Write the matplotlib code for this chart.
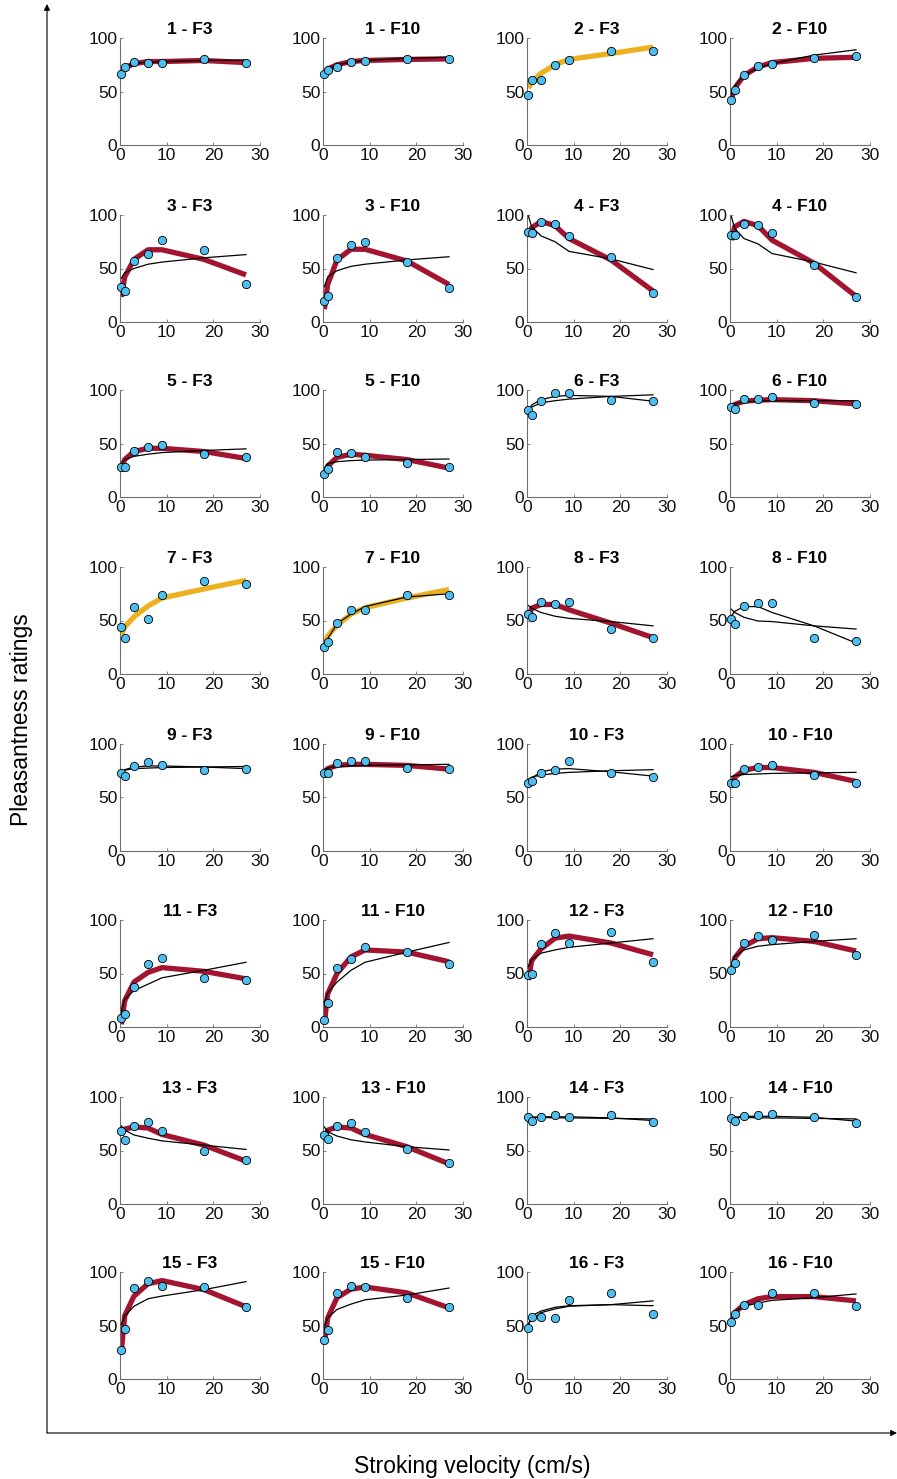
import matplotlib
matplotlib.use("Agg")
import matplotlib.pyplot as plt

plt.rcParams['font.family'] = ['Liberation Sans', 'DejaVu Sans']

# Stroking velocities (cm/s) at which ratings were collected
velocities = [0.3, 1, 3, 6, 9, 18, 27]

panel_titles = [
    "1 - F3", "1 - F10", "2 - F3", "2 - F10",
    "3 - F3", "3 - F10", "4 - F3", "4 - F10",
    "5 - F3", "5 - F10", "6 - F3", "6 - F10",
    "7 - F3", "7 - F10", "8 - F3", "8 - F10",
    "9 - F3", "9 - F10", "10 - F3", "10 - F10",
    "11 - F3", "11 - F10", "12 - F3", "12 - F10",
    "13 - F3", "13 - F10", "14 - F3", "14 - F10",
    "15 - F3", "15 - F10", "16 - F3", "16 - F10",
]

# Mean pleasantness ratings per panel at each velocity
ratings = [
    [66, 73, 77.5, 76.5, 77, 80.5, 77], [66, 70, 73, 77.5, 78.5, 80, 80],
    [47, 61, 61, 74.5, 79, 88, 88], [42, 51, 65, 74, 76, 81.5, 83],
    [33, 29, 57, 64, 77, 67, 35.5], [20, 24, 60, 72, 75, 56, 32],
    [84, 83.5, 93, 92, 80, 61, 27], [81, 81, 92, 90.5, 83.5, 53, 23],
    [28, 28, 43, 46.5, 48.5, 40, 37], [21.5, 26, 42, 41.5, 37, 31.5, 28],
    [81, 76.5, 90, 97.5, 97.5, 90.5, 89.5], [84, 82, 92, 92, 93, 88, 87],
    [44, 34, 62.5, 51, 74, 87, 84], [25.5, 30, 48, 59.5, 60, 74, 73.5],
    [56, 53, 67, 65, 67, 42, 34], [51, 47, 64, 66, 66, 34, 31],
    [72.5, 70.5, 79, 83, 80, 75.5, 77], [72.5, 72.5, 82, 84, 84, 78, 77],
    [64, 65.5, 72.5, 75.5, 84, 72.5, 69.5], [64, 64, 77, 78.5, 80.5, 71, 64],
    [8, 12.5, 37, 58.5, 64.5, 46, 44], [7, 22, 55.5, 64, 75, 70, 58.5],
    [49, 50, 77.5, 87.5, 78.5, 88.5, 60.5], [53.5, 59.5, 78.5, 85, 81, 86, 67],
    [68, 60, 73, 76.5, 68, 49.5, 41], [64.5, 60.5, 73, 75.5, 67.5, 51.5, 38],
    [81, 77.5, 81, 83, 81, 83, 76.5], [80, 77.5, 82.5, 83, 84, 81, 76],
    [27, 47, 85, 92, 87, 86, 67.5], [36.5, 45.5, 80.5, 86.5, 86, 76, 67.5],
    [47.5, 58, 58, 57, 74, 80.5, 61], [53.5, 61, 69.5, 69, 80.5, 80.5, 68],
]

# Logarithmic model fit evaluated at each velocity
log_fit = [
    [69, 72, 76, 77.5, 78, 79, 79.5], [67, 71, 75, 77.5, 79, 81, 82],
    [53, 59, 67, 75, 80, 85.5, 91.5], [47, 55, 65, 72, 76, 84, 89],
    [41, 46, 50, 54, 56, 60, 63], [33, 42, 48, 52, 54, 58, 61],
    [99, 89, 80.5, 75, 66, 59, 49], [98.5, 87.5, 78, 73, 64, 56, 46],
    [31, 35, 38, 40, 41.5, 43.5, 45], [27, 31, 33, 34, 34.5, 35, 35.5],
    [80, 84, 88, 90, 91.5, 94, 95.5], [85, 87, 89, 89.5, 90, 90, 90],
    [37, 44, 53.5, 63.5, 71, 79.5, 87.5], [27, 35.5, 45.5, 56, 62, 71, 79],
    [64, 61.5, 57.5, 54, 52, 49, 45], [60.5, 57.5, 53, 49.5, 49, 45, 42],
    [73, 75.5, 77, 77.5, 78, 78.5, 79], [76, 77.5, 79, 79.5, 80, 80.5, 81],
    [67, 69, 71, 72.5, 73.5, 75, 76], [69.5, 70.5, 71.5, 72, 72.5, 73, 73.5],
    [15, 26, 34, 40, 46, 53, 60.5], [23, 32, 42, 53, 60.5, 70, 79],
    [56.5, 63, 69, 72, 74.5, 78.5, 82.5], [58, 66, 72, 75.5, 77, 80, 82.5],
    [73, 69, 64.5, 61.5, 59, 55, 51], [72, 67.5, 63.5, 60, 58, 53.5, 50.5],
    [81.5, 81, 81, 80.5, 80.5, 80, 79.5], [81, 81, 81, 80.5, 80.5, 80, 79.5],
    [51, 59, 68, 75, 77.5, 83.5, 91], [49.5, 57, 65, 70, 74, 78.5, 85],
    [51.5, 55.5, 62, 65.5, 68, 69.5, 73], [60, 63.5, 68, 71, 73.5, 76, 79.5],
]

# Quadratic model fit evaluated at each velocity (None where not drawn)
quad_fit = [
    [68, 72, 76, 78, 78, 79, 77], [68, 71, 75, 78, 79, 80, 80.5],
    None, [43, 53, 65, 73, 77, 81, 82],
    [23.5, 42, 58.5, 67.5, 67.5, 58.5, 44], [12, 35, 58, 68, 68, 57, 35],
    [80, 88, 94, 90, 78, 58, 29], [76.5, 89, 94, 90, 76.5, 55, 24],
    [27, 35, 42.5, 45.5, 45.5, 42.5, 36], [19, 29, 37, 40, 39, 35, 27],
    [80, 86, 91, 94, 95, 94, 89.5], [83, 86.5, 89.5, 90.5, 91, 90, 87],
    None, [25, 33, 47, 56, 63, 72, 75],
    [52, 61.5, 65, 65, 60, 47.5, 34], [54, 58.5, 63, 63, 57.5, 45, 29],
    [72, 76, 78.5, 79.5, 79.5, 78.5, 77], [74, 77, 80, 81, 81, 80, 76.5],
    [65.5, 68, 74, 76.5, 77, 74, 70], [62, 69, 75.5, 78, 78, 73.5, 65],
    [2.5, 24.5, 42, 51, 55.5, 52, 45], [4, 31, 50, 65.5, 72, 70, 61],
    [44, 62, 73, 83, 85, 78.5, 67.5], [50, 64.5, 75.5, 82.5, 83.5, 80, 71],
    [64.5, 70, 72, 71, 65, 55, 40], [60.5, 69, 72, 71, 65, 53.5, 37.5],
    [80, 81, 81.5, 81.5, 81.5, 80.5, 78], [79, 81, 82, 82, 82, 81, 77.5],
    [26, 59, 77.5, 89, 92, 83.5, 67.5], [34, 57, 76, 84, 86, 80.5, 66.5],
    [51, 59, 63.5, 67, 68.5, 69.5, 68.5], [53.5, 62, 69.5, 75, 77, 77, 73],
]

# Which model is highlighted in each panel: 'quad', 'log' or None
best_model = [
    'quad', 'quad', 'log', 'quad',
    'quad', 'quad', 'quad', 'quad',
    'quad', 'quad', None, 'quad',
    'log', 'log', 'quad', None,
    None, 'quad', None, 'quad',
    'quad', 'quad', 'quad', 'quad',
    'quad', 'quad', None, None,
    'quad', 'quad', None, 'quad',
]

RED = '#A2142F'
YELLOW = '#EDB120'
DOT = '#4DBEEE'
AXIS_GREY = '#6e6e6e'

W, H = 897, 1479
fig = plt.figure(figsize=(W / 100, H / 100), dpi=100)

col_left = [120, 323, 527, 730]
row_zero = [145, 322, 497, 674, 851, 1027, 1204, 1379]
ax_w, ax_h = 140, 107

for i, title in enumerate(panel_titles):
    r, c = divmod(i, 4)
    left = col_left[c] / W
    bottom = 1 - row_zero[r] / H
    ax = fig.add_axes([left, bottom, ax_w / W, ax_h / H])

    best = best_model[i]
    if best == 'quad':
        ax.plot(velocities, quad_fit[i], color=RED, lw=3.8,
                solid_capstyle='butt', solid_joinstyle='round', zorder=2)
        ax.plot(velocities, log_fit[i], color='black', lw=0.9, zorder=3)
    elif best == 'log':
        ax.plot(velocities, log_fit[i], color=YELLOW, lw=3.8,
                solid_capstyle='butt', solid_joinstyle='round', zorder=2)
        if quad_fit[i] is not None:
            ax.plot(velocities, quad_fit[i], color='black', lw=0.9, zorder=3)
    else:
        ax.plot(velocities, log_fit[i], color='black', lw=0.9, zorder=3)
        if quad_fit[i] is not None:
            ax.plot(velocities, quad_fit[i], color='black', lw=0.9, zorder=3)

    ax.plot(velocities, ratings[i], linestyle='none', marker='o',
            markersize=6, markerfacecolor=DOT, markeredgecolor='black',
            markeredgewidth=0.6, zorder=4, clip_on=False)

    ax.set_xlim(0, 30)
    ax.set_ylim(0, 100)
    ax.set_xticks([0, 10, 20, 30])
    ax.set_yticks([0, 50, 100])
    ax.spines['top'].set_visible(False)
    ax.spines['right'].set_visible(False)
    for s in ('left', 'bottom'):
        ax.spines[s].set_color(AXIS_GREY)
        ax.spines[s].set_linewidth(0.8)
    ax.tick_params(direction='in', length=2.5, width=0.6, color=AXIS_GREY,
                   labelsize=12.5, labelcolor='#111111', pad=2)
    ax.patch.set_alpha(0)
    ax.set_title(title, fontsize=12.5, fontweight='bold', pad=3)

# Outer frame with arrowed axes and shared labels
frame = fig.add_axes([0, 0, 1, 1])
frame.set_xlim(0, W)
frame.set_ylim(H, 0)
frame.axis('off')
frame.patch.set_alpha(0)
frame.annotate('', xy=(47, 4), xytext=(47, 1433), annotation_clip=False,
               arrowprops=dict(arrowstyle='-|>', color='black', lw=0.8,
                               mutation_scale=9, shrinkA=0, shrinkB=0))
frame.annotate('', xy=(897, 1433), xytext=(47, 1433), annotation_clip=False,
               arrowprops=dict(arrowstyle='-|>', color='black', lw=0.8,
                               mutation_scale=9, shrinkA=0, shrinkB=0))
frame.text(22, 720, 'Pleasantness ratings', rotation=90, ha='center',
           va='center', fontsize=16.5)
frame.text(472, 1466, 'Stroking velocity (cm/s)', ha='center',
           va='center', fontsize=16.5)

fig.savefig('out.png', dpi=100)
